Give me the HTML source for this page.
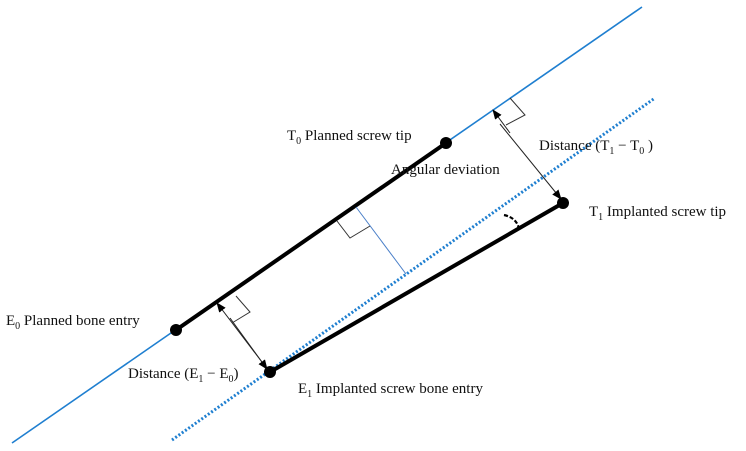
<!DOCTYPE html>
<html><head><meta charset="utf-8"><style>
html,body{margin:0;padding:0;background:#fff;}
svg{display:block;}
text{font-family:"Liberation Serif",serif;font-size:15px;fill:#111;}
.s{font-size:10px;}
</style></head><body>
<svg width="746" height="451" viewBox="0 0 746 451" xmlns="http://www.w3.org/2000/svg">
<defs>
<marker id="a" markerWidth="10" markerHeight="10" refX="9" refY="5" orient="auto" markerUnits="userSpaceOnUse">
<path d="M0,1 L10,5 L0,9 z" fill="#000"/></marker>
</defs>
<!-- planned trajectory -->
<line x1="12" y1="443" x2="642" y2="7" stroke="#1f7fd0" stroke-width="1.6"/>
<!-- implanted trajectory dotted -->
<line x1="172" y1="440" x2="655" y2="98" stroke="#1f7fd0" stroke-width="3" stroke-dasharray="2,2"/>
<!-- screws -->
<line x1="176" y1="330" x2="446" y2="143" stroke="#000" stroke-width="4"/>
<line x1="270" y1="372" x2="563" y2="203" stroke="#000" stroke-width="4"/>
<circle cx="176" cy="330" r="6" fill="#000"/>
<circle cx="446" cy="143" r="6" fill="#000"/>
<circle cx="270" cy="372" r="6" fill="#000"/>
<circle cx="563" cy="203" r="6" fill="#000"/>
<!-- perpendicular blue thin -->
<line x1="356" y1="207" x2="406" y2="274" stroke="#4a7fc8" stroke-width="1"/>
<polyline points="337,221 350,238 370,226" fill="none" stroke="#333" stroke-width="1"/>
<!-- E distance -->
<line x1="265" y1="366" x2="217" y2="303" stroke="#222" stroke-width="1" marker-end="url(#a)"/>
<line x1="230" y1="318" x2="267" y2="369" stroke="#222" stroke-width="1" marker-end="url(#a)"/>
<polyline points="236,296 250,312 232,323" fill="none" stroke="#333" stroke-width="1"/>
<!-- T distance -->
<line x1="510" y1="133" x2="493" y2="110" stroke="#222" stroke-width="1" marker-end="url(#a)"/>
<line x1="500" y1="124" x2="561" y2="199" stroke="#222" stroke-width="1" marker-end="url(#a)"/>
<polyline points="510,98 525,115 506,125" fill="none" stroke="#333" stroke-width="1"/>
<!-- angle arc -->
<path d="M504,215 Q517,218 519,229" fill="none" stroke="#000" stroke-width="2.2" stroke-dasharray="4,2"/>
<!-- labels -->
<text x="287" y="140">T<tspan class="s" dy="4">0</tspan><tspan dy="-4"> Planned screw tip</tspan></text>
<text x="539" y="150">Distance (T<tspan class="s" dy="4">1</tspan><tspan dy="-4"> − T</tspan><tspan class="s" dy="4">0</tspan><tspan dy="-4"> )</tspan></text>
<text x="391" y="174">Angular deviation</text>
<text x="589" y="216">T<tspan class="s" dy="4">1</tspan><tspan dy="-4"> Implanted screw tip</tspan></text>
<text x="6" y="325">E<tspan class="s" dy="4">0</tspan><tspan dy="-4"> Planned bone entry</tspan></text>
<text x="128" y="378">Distance (E<tspan class="s" dy="4">1</tspan><tspan dy="-4"> − E</tspan><tspan class="s" dy="4">0</tspan><tspan dy="-4">)</tspan></text>
<text x="298" y="393">E<tspan class="s" dy="4">1</tspan><tspan dy="-4"> Implanted screw bone entry</tspan></text>
</svg>
</body></html>
